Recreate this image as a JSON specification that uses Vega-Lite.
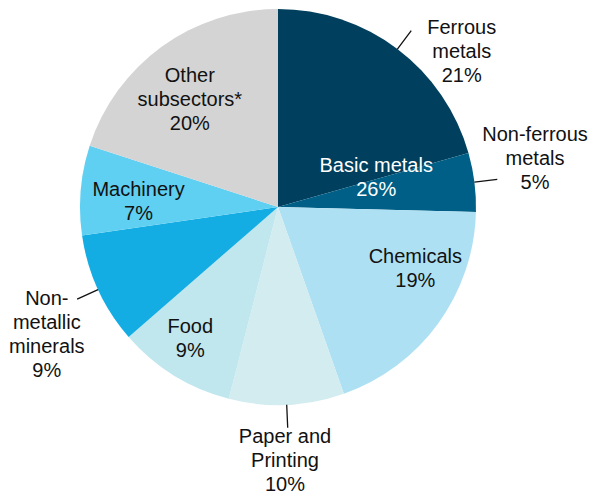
{
  "$schema": "https://vega.github.io/schema/vega-lite/v6.json",
  "width": 556,
  "height": 414,
  "autosize": {"type": "none"},
  "padding": {"left": 0, "top": 0, "right": 37, "bottom": 81},
  "background": "white",
  "config": {"view": {"stroke": null}, "text": {"font": "Liberation Sans", "fontSize": 20, "lineHeight": 24, "color": "#111111"}},
  "data": {"values": [
    {"sector": "Ferrous metals", "label": ["Ferrous", "metals", "21%"], "share": 20.6},
    {"sector": "Non-ferrous metals", "label": ["Non-ferrous", "metals", "5%"], "share": 4.8},
    {"sector": "Chemicals", "label": ["Chemicals", "19%"], "share": 19.2},
    {"sector": "Paper and Printing", "label": ["Paper and", "Printing", "10%"], "share": 9.4},
    {"sector": "Food", "label": ["Food", "9%"], "share": 9.6},
    {"sector": "Non-metallic minerals", "label": ["Non-", "metallic", "minerals", "9%"], "share": 9.1},
    {"sector": "Machinery", "label": ["Machinery", "7%"], "share": 7.3},
    {"sector": "Other subsectors*", "label": ["Other", "subsectors*", "20%"], "share": 20.0}
  ]},
  "transform": [{"window": [{"op": "row_number", "as": "idx"}]}],
  "encoding": {
    "theta": {"field": "share", "type": "quantitative", "stack": true},
    "order": {"field": "idx", "type": "quantitative"},
    "detail": {"field": "sector", "type": "nominal"}
  },
  "layer": [
    {
      "mark": {"type": "arc", "outerRadius": 198},
      "encoding": {
        "color": {
          "field": "sector", "type": "nominal", "legend": null,
          "scale": {
            "domain": ["Ferrous metals", "Non-ferrous metals", "Chemicals", "Paper and Printing", "Food", "Non-metallic minerals", "Machinery", "Other subsectors*"],
            "range": ["#00405e", "#005f86", "#aee0f4", "#d2ecf0", "#c0e6ee", "#14ade3", "#5fcff2", "#d4d4d4"]
          }
        }
      }
    },
    {
      "mark": {"type": "arc", "outerRadius": 221, "innerRadius": 198, "padAngle": 3, "filled": false, "stroke": "#111111", "strokeWidth": 1.3},
      "encoding": {
        "strokeOpacity": {
          "condition": {"test": "indexof(['Ferrous metals','Non-ferrous metals','Paper and Printing','Non-metallic minerals'], datum.sector) >= 0", "value": 1},
          "value": 0
        }
      }
    },
    {
      "mark": {"type": "text", "radius": 240, "dx": 39, "dy": 12},
      "encoding": {"text": {"condition": {"test": "datum.sector === 'Ferrous metals'", "field": "label"}, "value": ""}}
    },
    {
      "mark": {"type": "text", "radius": 250, "dx": 9, "dy": -41},
      "encoding": {"text": {"condition": {"test": "datum.sector === 'Non-ferrous metals'", "field": "label"}, "value": ""}}
    },
    {
      "mark": {"type": "text", "radius": 250, "dx": -4, "dy": -20},
      "encoding": {"text": {"condition": {"test": "datum.sector === 'Paper and Printing'", "field": "label"}, "value": ""}}
    },
    {
      "mark": {"type": "text", "radius": 250, "dx": -4, "dy": -12},
      "encoding": {"text": {"condition": {"test": "datum.sector === 'Non-metallic minerals'", "field": "label"}, "value": ""}}
    },
    {
      "mark": {"type": "text", "radius": 150, "dx": 16, "dy": -38},
      "encoding": {"text": {"condition": {"test": "datum.sector === 'Chemicals'", "field": "label"}, "value": ""}}
    },
    {
      "mark": {"type": "text", "radius": 150, "dx": -9, "dy": -8},
      "encoding": {"text": {"condition": {"test": "datum.sector === 'Food'", "field": "label"}, "value": ""}}
    },
    {
      "mark": {"type": "text", "radius": 150, "dx": 10, "dy": -4},
      "encoding": {"text": {"condition": {"test": "datum.sector === 'Machinery'", "field": "label"}, "value": ""}}
    },
    {
      "mark": {"type": "text", "radius": 150, "dx": 0, "dy": -10},
      "encoding": {"text": {"condition": {"test": "datum.sector === 'Other subsectors*'", "field": "label"}, "value": ""}}
    },
    {
      "mark": {"type": "text", "radius": 100, "dx": -1, "dy": -28, "color": "white"},
      "encoding": {"text": {"condition": {"test": "datum.sector === 'Non-ferrous metals'", "value": ["Basic metals", "26%"]}, "value": ""}}
    }
  ]
}
